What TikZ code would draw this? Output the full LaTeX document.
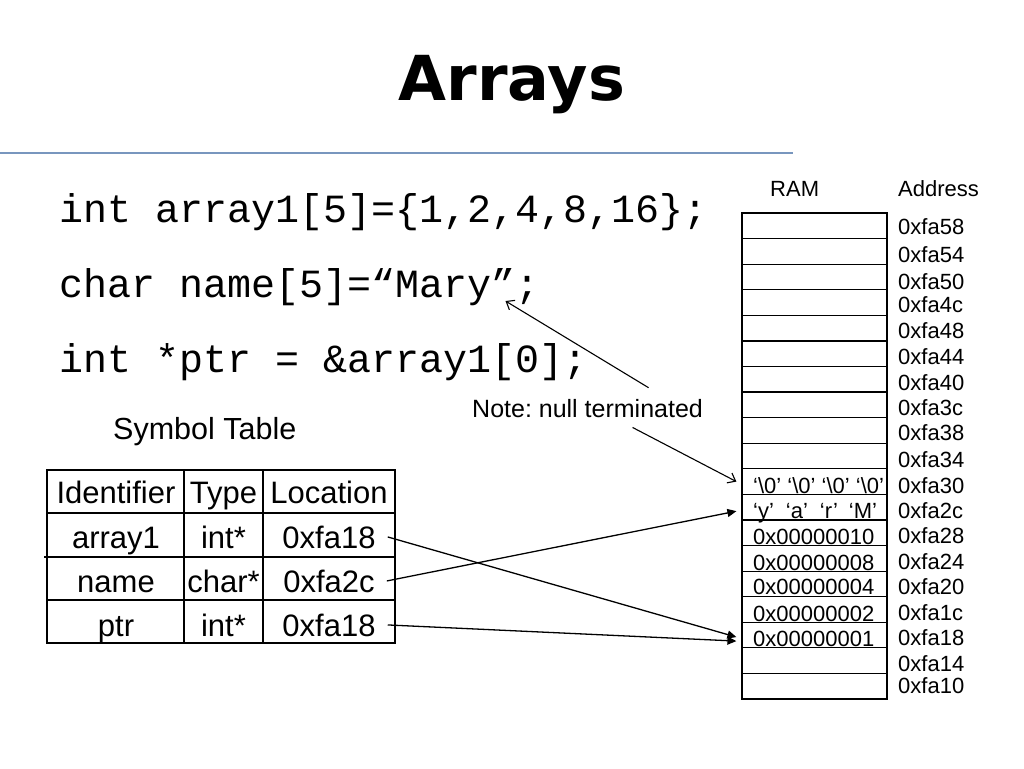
\documentclass[tikz,border=0pt]{standalone}
\usepackage{fontspec}
\setmainfont{Liberation Sans}
\newfontfamily\codefont{Liberation Mono}
\newfontfamily\titlefont{DejaVu Sans}
\usetikzlibrary{arrows.meta}
\frenchspacing
\definecolor{rulecol}{RGB}{120,150,190}
\begin{document}
\begin{tikzpicture}[x=1pt,y=-1pt,
  every node/.style={inner sep=0pt},
  code/.style={anchor=base west, font=\codefont\fontsize{40}{44}\selectfont},
  small/.style={anchor=base west, font=\fontsize{22}{26}\selectfont},
  tabtext/.style={anchor=base, font=\fontsize{31}{34}\selectfont},
  cell/.style={draw, line width=1.2pt, minimum width=145pt, minimum height=25.58pt},
  tbl/.style={line width=1.8pt},
  openarr/.style={-{Straight Barb[length=7pt,width=11pt]}, line width=1.1pt},
  fillarr/.style={-{Triangle[length=9pt,width=8pt]}, line width=1.3pt}]
\useasboundingbox (0,0) rectangle (1024,768);
% title and rule
\node[anchor=base, font=\titlefont\bfseries\fontsize{62}{70}\selectfont] (title) at (512,100) {Arrays};
\draw[rulecol, line width=1.5pt] (0,153) -- (793,153);
% code
\node[code] (code1) at (59,222) {int array1[5]=\{1,2,4,8,16\};};
\node[code] (code2) at (59,297) {char name[5]=“Mary”;};
\node[code] (code3) at (59,372) {int *ptr = \&array1[0];};
% note
\node[anchor=base west, font=\fontsize{25}{28}\selectfont] (note) at (472,417) {Note: null terminated};
% symbol table
\node[anchor=base west, font=\fontsize{30.5}{34}\selectfont] (symtab) at (113,439) {Symbol Table};
\draw[tbl] (47,470) rectangle (395,643);
\draw[tbl] (47,513) -- (395,513);
\draw[tbl] (44,557) -- (395,557);
\draw[tbl] (47,600) -- (395,600);
\draw[tbl] (184,470) -- (184,643);
\draw[tbl] (263,470) -- (263,643);
\node[tabtext] (hid) at (116,503) {Identifier};
\node[tabtext] (hty) at (223.5,503) {Type};
\node[tabtext] (hlo) at (329,503) {Location};
\node[tabtext] (id1) at (116,548) {array1};
\node[tabtext] (ty1) at (223.5,548) {int*};
\node[tabtext] (loc1) at (329,548) {0xfa18};
\node[tabtext] (id2) at (116,592) {name};
\node[tabtext] (ty2) at (223.5,592) {char*};
\node[tabtext] (loc2) at (329,592) {0xfa2c};
\node[tabtext] (id3) at (116,636) {ptr};
\node[tabtext] (ty3) at (223.5,636) {int*};
\node[tabtext] (loc3) at (329,636) {0xfa18};
% RAM
\node[small] (ram) at (770,196) {RAM};
\node[small] (addr) at (898,196) {Address};
\foreach \i in {0,...,18}
  \node[cell] (c\i) at (814.5,{225.79+25.58*\i}) {};
\node[small] (v10) at (753,493) {‘\textbackslash 0’ ‘\textbackslash 0’ ‘\textbackslash 0’ ‘\textbackslash 0’};
\node[small] (v11) at (753,518) {‘y’\hspace{12pt}‘a’\hspace{12pt}‘r’\hspace{11pt}‘M’};
\node[small] (v12) at (753,544) {0x00000010};
\node[small] (v13) at (753,570) {0x00000008};
\node[small] (v14) at (753,594) {0x00000004};
\node[small] (v15) at (753,621) {0x00000002};
\node[small] (v16) at (753,646) {0x00000001};
\node[small] (a0) at (898,234) {0xfa58};
\node[small] (a1) at (898,262) {0xfa54};
\node[small] (a2) at (898,289) {0xfa50};
\node[small] (a3) at (898,312) {0xfa4c};
\node[small] (a4) at (898,338) {0xfa48};
\node[small] (a5) at (898,364) {0xfa44};
\node[small] (a6) at (898,390) {0xfa40};
\node[small] (a7) at (898,415) {0xfa3c};
\node[small] (a8) at (898,440) {0xfa38};
\node[small] (a9) at (898,467) {0xfa34};
\node[small] (a10) at (898,493) {0xfa30};
\node[small] (a11) at (898,518) {0xfa2c};
\node[small] (a12) at (898,543) {0xfa28};
\node[small] (a13) at (898,569) {0xfa24};
\node[small] (a14) at (898,594) {0xfa20};
\node[small] (a15) at (898,620) {0xfa1c};
\node[small] (a16) at (898,645) {0xfa18};
\node[small] (a17) at (898,671) {0xfa14};
\node[small] (a18) at (898,693) {0xfa10};
% connectors
\draw[openarr] ([xshift=61pt,yshift=11pt]note.north) -- ([xshift=-34pt,yshift=-4pt]code2.base east);
\draw[openarr] ([xshift=45pt,yshift=-10pt]note.south) -- ([xshift=-5pt]c10.west);
\draw[fillarr] ([xshift=12pt]loc1.east) -- ([xshift=-5pt,yshift=-2pt]c16.west);
\draw[fillarr] ([xshift=12pt]loc2.east) -- ([xshift=-5pt,yshift=-4pt]c11.west);
\draw[fillarr] ([xshift=12pt]loc3.east) -- ([xshift=-5pt,yshift=-6pt]c16.west);
\end{tikzpicture}
\end{document}
